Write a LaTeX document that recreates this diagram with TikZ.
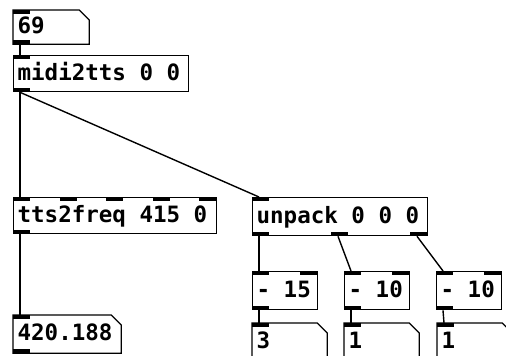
\documentclass[tikz,border=0pt]{standalone}
\usepackage{fontspec}
\newfontfamily\pdfont{DejaVu Sans Mono}
\newcommand\pdsize{\fontsize{22.5}{26}\selectfont
  \fontdimen2\font=0.602em\fontdimen3\font=0pt\fontdimen4\font=0pt}
\tikzset{
  pdbox/.style={draw, line width=1.3pt, anchor=north west, inner xsep=4pt,
    inner ysep=0pt, align=left, text height=16pt, text depth=3pt,
    font=\pdfont\bfseries\pdsize,
    execute at begin node={\spaceskip=0pt\xspaceskip=0pt}},
  atom/.style={pdbox, draw=none},
  wire/.style={line width=1.4pt},
}
\begin{document}
\begin{tikzpicture}[x=1pt, y=-1pt]
	\useasboundingbox (0,0) rectangle (506,356);
	\clip (0,0) rectangle (506,356);

	\node[atom, text width=67pt, minimum height=33pt] (num) at (13,10) {69};
	\node[pdbox, text width=167pt, minimum height=36pt] (midi) at (13,55) {midi2tts 0 0};
	\node[pdbox, text width=195pt, minimum height=36pt] (freq) at (13,197) {tts2freq 415 0};
	\node[pdbox, text width=167pt, minimum height=38pt] (unp) at (252,197) {unpack 0 0 0};
	\node[pdbox, text width=57pt, minimum height=38pt] (ma) at (252,271) {- 15};
	\node[pdbox, text width=57pt, minimum height=38pt] (mb) at (344,271) {- 10};
	\node[pdbox, text width=57pt, minimum height=38pt] (mc) at (436,271) {- 10};
	\node[atom, text width=99pt, minimum height=37pt] (res) at (13,315) {420.188};
	\node[atom, text width=66pt, minimum height=37pt] (oa) at (252,323) {3};
	\node[atom, text width=66pt, minimum height=37pt] (ob) at (344,323) {1};
	\node[atom, text width=66pt, minimum height=37pt] (oc) at (437,323) {1};

	% number boxes
	\foreach \n in {num, res, oa, ob, oc}
		\draw[line width=1.3pt] (\n.north west) -- ([xshift=-10pt]\n.north east)
			-- ([yshift=-10pt]\n.north east) -- (\n.south east) -- (\n.south west) -- cycle;

	% inlets and outlets
	\foreach \n/\dx in {num/0, midi/0, freq/0, freq/46.5, freq/93, freq/139.5, freq/186,
			unp/0, ma/0, ma/48, mb/0, mb/48, mc/0, mc/48, res/0, oa/0, ob/0, oc/0}
		\fill ([xshift=\dx pt]\n.north west) rectangle ++(17pt,-4pt);
	\foreach \n/\dx in {num/0, midi/0, freq/0, unp/0, unp/79, unp/158,
			ma/0, mb/0, mc/0, res/0, oa/0, ob/0, oc/0}
		\fill ([xshift=\dx pt]\n.south west) rectangle ++(17pt,4pt);

	\draw[wire] ([xshift=7pt]num.south west) -- ([xshift=7pt]midi.north west);
	\draw[wire] ([xshift=7pt]midi.south west) -- ([xshift=7pt]freq.north west);
	\draw[wire] ([xshift=7pt]midi.south west) -- ([xshift=7pt]unp.north west);
	\draw[wire] ([xshift=7pt]freq.south west) -- ([xshift=7pt]res.north west);
	\draw[wire] ([xshift=7pt]unp.south west) -- ([xshift=7pt]ma.north west);
	\draw[wire] ([xshift=86pt]unp.south west) -- ([xshift=7pt]mb.north west);
	\draw[wire] ([xshift=165pt]unp.south west) -- ([xshift=7pt]mc.north west);
	\draw[wire] ([xshift=7pt]ma.south west) -- ([xshift=7pt]oa.north west);
	\draw[wire] ([xshift=7pt]mb.south west) -- ([xshift=7pt]ob.north west);
	\draw[wire] ([xshift=7pt]mc.south west) -- ([xshift=7pt]oc.north west);
\end{tikzpicture}
\end{document}
